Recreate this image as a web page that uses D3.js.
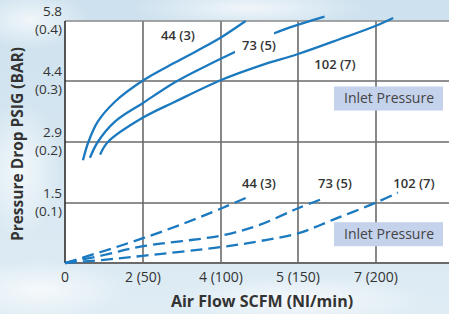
<!DOCTYPE html>
<html>
<head>
<meta charset="utf-8">
<script src="https://cdn.jsdelivr.net/npm/d3@7"></script>
<style>
  body { margin: 0; overflow: hidden; }
  svg { display: block; font-family: "Open Sans", sans-serif; }
</style>
</head>
<body>
<svg id="chart" width="449" height="314"></svg>
<script>
// axis breaks (the grid is evenly spaced, the values are not)
const xTickValues = [0, 2, 4, 5, 7];
const xTickLabels = ["0", "2 (50)", "4 (100)", "5 (150)", "7 (200)"];
const yTickValues = [1.5, 2.9, 4.4, 5.8];
const yTickLabels = [["1.5", "(0.1)"], ["2.9", "(0.2)"], ["4.4", "(0.3)"], ["5.8", "(0.4)"]];

// solid curves: SCFM vs PSIG
const solid44 = [[0.46, 2.48], [0.6, 2.9], [0.84, 3.4], [1.28, 3.89], [2.0, 4.41], [2.82, 4.83], [3.52, 5.17], [4.02, 5.44], [4.32, 5.8]];
const solid73 = [[0.64, 2.54], [0.84, 2.9], [1.28, 3.4], [2.0, 3.86], [2.82, 4.37], [3.68, 4.78], [4.16, 5.06], [4.7, 5.52], [5.68, 5.9]];
const solid102 = [[0.9, 2.61], [1.1, 2.9], [2.0, 3.5], [2.82, 3.89], [4.01, 4.43], [4.51, 4.76], [5.0, 5.03], [6.08, 5.38], [7.0, 5.69], [7.44, 5.87]];

// dashed curves
const dash44 = [[0, 0], [1.0, 0.3], [2.0, 0.62], [3.0, 0.97], [4.01, 1.37], [4.34, 1.63]];
const dash73 = [[0, 0], [1.0, 0.2], [2.0, 0.42], [4.01, 0.69], [4.51, 0.96], [5.0, 1.37], [5.64, 1.6]];
const dash102 = [[0, 0], [1.0, 0.08], [2.0, 0.18], [4.01, 0.4], [4.51, 0.55], [5.0, 0.74], [5.92, 1.09], [7.0, 1.51], [7.56, 1.74]];

// inlet pressure note positions (PSIG at box centre)
const notes = [3.97, 0.72];

const svg = d3.select("#chart");
const W = 449, H = 314;
const blue = "#1b79c0";

const x = d3.scaleLinear().domain([0, 2, 4, 5, 7, 9]).range([65, 143, 221, 298, 376, 454]);
const y = d3.scaleLinear().domain([0, 1.5, 2.9, 4.4, 5.8]).range([263, 203, 142, 81, 21]);

// sky background
const defs = svg.append("defs");
const sky = defs.append("linearGradient").attr("id", "sky").attr("x1", 0).attr("y1", 0).attr("x2", 0).attr("y2", 1);
sky.append("stop").attr("offset", "0%").attr("stop-color", "#cde1ee");
sky.append("stop").attr("offset", "100%").attr("stop-color", "#dfecf4");
const cloud = defs.append("radialGradient").attr("id", "cloud");
cloud.append("stop").attr("offset", "0%").attr("stop-color", "#ffffff").attr("stop-opacity", 0.7);
cloud.append("stop").attr("offset", "100%").attr("stop-color", "#ffffff").attr("stop-opacity", 0);

svg.append("rect").attr("width", W).attr("height", H).attr("fill", "url(#sky)");
[[30, 20, 60, 30], [250, 8, 120, 20], [40, 290, 90, 30], [300, 300, 130, 25], [20, 170, 40, 70]].forEach(c => {
  svg.append("ellipse").attr("cx", c[0]).attr("cy", c[1]).attr("rx", c[2]).attr("ry", c[3]).attr("fill", "url(#cloud)");
});

// plot area
svg.append("rect").attr("x", x(0)).attr("y", y(5.8)).attr("width", W - x(0)).attr("height", y(0) - y(5.8)).attr("fill", "#fff");

// grid
svg.selectAll(".vgrid").data(xTickValues.slice(1)).enter().append("line")
  .attr("x1", d => x(d)).attr("x2", d => x(d))
  .attr("y1", y(5.8)).attr("y2", y(0))
  .attr("stroke", "#3a3a3a").attr("stroke-width", 1.2);
svg.selectAll(".hgrid").data(yTickValues).enter().append("line")
  .attr("x1", x(0)).attr("x2", W)
  .attr("y1", d => y(d)).attr("y2", d => y(d))
  .attr("stroke", d => d === 5.8 ? "#8a8a8a" : "#6a6a6a").attr("stroke-width", 1.5);
svg.append("line").attr("x1", x(0)).attr("x2", W).attr("y1", y(0)).attr("y2", y(0))
  .attr("stroke", "#6a6a6a").attr("stroke-width", 2);
svg.append("line").attr("x1", x(0)).attr("x2", x(0)).attr("y1", y(5.8)).attr("y2", y(0))
  .attr("stroke", "#222").attr("stroke-width", 1.5);

// tick labels
svg.selectAll(".xlab").data(xTickValues).enter().append("text")
  .attr("x", d => x(d)).attr("y", 282)
  .attr("text-anchor", "middle").attr("font-size", 14).attr("fill", "#333")
  .text((d, i) => xTickLabels[i]);

const yl = svg.selectAll(".ylab").data(yTickValues).enter().append("g");
yl.append("text").attr("x", 62).attr("y", d => y(d) - 5)
  .attr("text-anchor", "end").attr("font-size", 13.5).attr("fill", "#333")
  .text((d, i) => yTickLabels[i][0]);
yl.append("text").attr("x", 62).attr("y", d => y(d) + 13)
  .attr("text-anchor", "end").attr("font-size", 13.5).attr("fill", "#333")
  .text((d, i) => yTickLabels[i][1]);

// axis titles
svg.append("text").attr("x", 262).attr("y", 307).attr("text-anchor", "middle")
  .attr("font-size", 16).attr("font-weight", "bold").attr("fill", "#333")
  .text("Air Flow SCFM (Nl/min)");
svg.append("text").attr("transform", "translate(23,144) rotate(-90)").attr("text-anchor", "middle")
  .attr("font-size", 15.5).attr("font-weight", "bold").attr("fill", "#333")
  .text("Pressure Drop PSIG (BAR)");

// inlet pressure boxes
notes.forEach(v => {
  svg.append("rect").attr("x", 334).attr("y", y(v) - 12).attr("width", 109).attr("height", 24).attr("fill", "#c4d2ec");
  svg.append("text").attr("x", 389).attr("y", y(v) + 5).attr("text-anchor", "middle")
    .attr("font-size", 14).attr("fill", "#444").text("Inlet Pressure");
});

const line = d3.line().x(d => x(d[0])).y(d => y(d[1])).curve(d3.curveCatmullRom);

// curves
svg.append("path").attr("d", line(solid73)).attr("fill", "none").attr("stroke", blue).attr("stroke-width", 2.3);
svg.append("rect").attr("x", 235).attr("y", 30).attr("width", 39).attr("height", 26).attr("fill", "#fff");
[solid44, solid102].forEach(s => {
  svg.append("path").attr("d", line(s)).attr("fill", "none").attr("stroke", blue).attr("stroke-width", 2.3);
});
[dash44, dash73, dash102].forEach(s => {
  svg.append("path").attr("d", line(s)).attr("fill", "none").attr("stroke", blue)
    .attr("stroke-width", 2.3).attr("stroke-dasharray", "12,6");
});

// series labels
const labels = [["44 (3)", 178, 40], ["73 (5)", 259, 50], ["102 (7)", 335, 69],
                ["44 (3)", 259, 188], ["73 (5)", 335, 188], ["102 (7)", 414, 188]];
svg.selectAll(".slab").data(labels).enter().append("text")
  .attr("x", d => d[1]).attr("y", d => d[2]).attr("text-anchor", "middle")
  .attr("font-size", 13).attr("font-weight", 600).attr("fill", "#333")
  .text(d => d[0]);
</script>
</body>
</html>
